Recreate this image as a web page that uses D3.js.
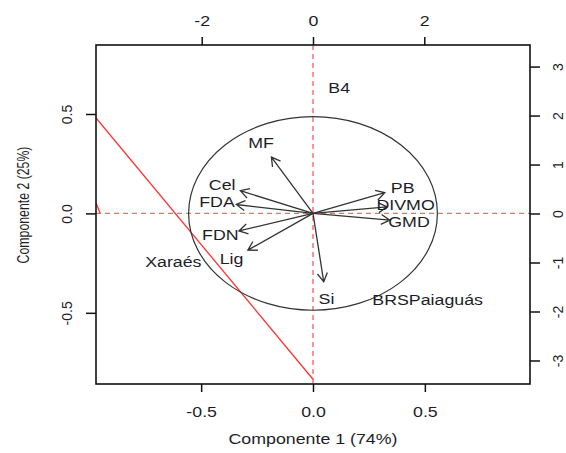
<!DOCTYPE html>
<html>
<head>
<meta charset="utf-8">
<script src="https://cdn.jsdelivr.net/npm/d3@7"></script>
<style>
  html, body { margin: 0; padding: 0; background: #fff; }
  svg { display: block; font-family: "Liberation Sans", Arial, sans-serif; }
</style>
</head>
<body>
<svg id="chart" width="566" height="453"></svg>
<script>
// Variable loadings (label positions) on components 1 and 2
const loadingNames = ["MF", "Cel", "FDA", "FDN", "Lig", "Si", "PB", "DIVMO", "GMD"];
const loadingPC1 = [-0.2325, -0.406, -0.429, -0.414, -0.364, 0.06, 0.401, 0.414, 0.429];
const loadingPC2 = [0.354, 0.1425, 0.056, -0.11, -0.231, -0.43, 0.13, 0.041, -0.0425];

// Genotype scores, read on the top / right axes
const genotypes = ["B4", "Xaraés", "BRSPaiaguás"];
const scorePC1 = [0.47, -2.51, 2.06];
const scorePC2 = [2.56, -0.99, -1.77];

// Reference circle radii (component 1, component 2)
const circleRadius = [0.556, 0.487];

// Red reference lines (component 1, component 2 end points)
const redLineA = [[-0.97, 0.48], [0, -0.834]];
const redLineB = [[-0.97, 0.052], [-0.951, 0]];

// Axis ticks
const bottomTicks = [-0.5, 0, 0.5];
const leftTicks = [-0.5, 0, 0.5];
const topTicks = [-2, 0, 2];
const rightTicks = [-3, -2, -1, 0, 1, 2, 3];

const svg = d3.select("#chart");
const L = 96, R = 530, T = 45, B = 384;
const sx = 1.27; // horizontal stretch of horizontal text
const ink = "#1e1e28";

const x = d3.scaleLinear().domain([-0.97, 0.97]).range([L, R]);
const y = d3.scaleLinear().domain([-0.858, 0.847]).range([B, T]);
const x2 = d3.scaleLinear().domain([-3.9, 3.9]).range([L, R]);
const y2 = d3.scaleLinear().domain([-3.48, 3.44]).range([B, T]);

svg.append("defs").append("clipPath").attr("id", "plotClip")
  .append("rect").attr("x", L).attr("y", T).attr("width", R - L).attr("height", B - T);

const plot = svg.append("g").attr("clip-path", "url(#plotClip)");

// Dashed zero lines
plot.append("line")
  .attr("x1", x(0)).attr("x2", x(0)).attr("y1", T).attr("y2", B)
  .attr("stroke", "#ff5a5a").attr("stroke-width", 1.3).attr("stroke-dasharray", "5,4");
plot.append("line")
  .attr("x1", L).attr("x2", R).attr("y1", y(0)).attr("y2", y(0))
  .attr("stroke", "#ff6a6a").attr("stroke-width", 1.2).attr("stroke-dasharray", "5,4");

// Red reference lines
[redLineA, redLineB].forEach(seg => {
  plot.append("line")
    .attr("x1", x(seg[0][0])).attr("y1", y(seg[0][1]))
    .attr("x2", x(seg[1][0])).attr("y2", y(seg[1][1]))
    .attr("stroke", "#ff3030").attr("stroke-width", 1.3);
});

// Circle
plot.append("ellipse")
  .attr("cx", x(0)).attr("cy", y(0))
  .attr("rx", x(circleRadius[0]) - x(0))
  .attr("ry", y(0) - y(circleRadius[1]))
  .attr("fill", "none").attr("stroke", "#333").attr("stroke-width", 1.2);

// Loading arrows, drawn to 0.8 of each loading
const arrows = plot.append("g").attr("stroke", "#333").attr("stroke-width", 1.3).attr("fill", "none");
loadingNames.forEach((name, i) => {
  const x0 = x(0), y0 = y(0);
  const x1 = x(loadingPC1[i] * 0.8), y1 = y(loadingPC2[i] * 0.8);
  const ang = Math.atan2(y1 - y0, x1 - x0);
  const hl = 10, ha = Math.PI / 6;
  const p = d3.path();
  p.moveTo(x0, y0); p.lineTo(x1, y1);
  p.moveTo(x1 - hl * Math.cos(ang - ha), y1 - hl * Math.sin(ang - ha));
  p.lineTo(x1, y1);
  p.lineTo(x1 - hl * Math.cos(ang + ha), y1 - hl * Math.sin(ang + ha));
  arrows.append("path").attr("d", p.toString());
});

// Loading labels
loadingNames.forEach((name, i) => {
  svg.append("text")
    .attr("transform", `translate(${x(loadingPC1[i])},${y(loadingPC2[i])}) scale(${sx},1)`)
    .attr("text-anchor", "middle").attr("dy", "0.36em")
    .attr("font-size", 14).attr("fill", ink).text(name);
});

// Genotype labels
genotypes.forEach((g, i) => {
  svg.append("text")
    .attr("transform", `translate(${x2(scorePC1[i])},${y2(scorePC2[i])}) scale(${sx},1)`)
    .attr("text-anchor", "middle").attr("dy", "0.36em")
    .attr("font-size", 14).attr("fill", ink).text(g);
});

// Axes
const fmt1 = d => d.toFixed(1);
const fmt0 = d => String(d);

function styleAxis(g) {
  g.select(".domain").remove();
  g.selectAll(".tick line").attr("stroke", "#111").attr("stroke-width", 1.5);
  g.selectAll(".tick text").attr("fill", ink).attr("font-size", 14)
    .attr("x", null).attr("y", null).attr("dy", null).attr("font-family", null);
}

const gb = svg.append("g").attr("transform", `translate(0,${B})`)
  .call(d3.axisBottom(x).tickValues(bottomTicks).tickFormat(fmt1).tickSize(8).tickSizeOuter(0));
styleAxis(gb);
gb.selectAll(".tick text").attr("text-anchor", "middle")
  .attr("transform", `translate(0,32.5) scale(${sx},1)`);

const gt = svg.append("g").attr("transform", `translate(0,${T})`)
  .call(d3.axisTop(x2).tickValues(topTicks).tickFormat(fmt0).tickSize(8).tickSizeOuter(0));
styleAxis(gt);
gt.selectAll(".tick text").attr("text-anchor", "middle")
  .attr("transform", `translate(0,-19.5) scale(${sx},1)`);

const gl = svg.append("g").attr("transform", `translate(${L},0)`)
  .call(d3.axisLeft(y).tickValues(leftTicks).tickFormat(fmt1).tickSize(10).tickSizeOuter(0));
styleAxis(gl);
gl.selectAll(".tick text").attr("text-anchor", "middle")
  .attr("transform", "translate(-24.5,0) rotate(-90)");

const gr = svg.append("g").attr("transform", `translate(${R},0)`)
  .call(d3.axisRight(y2).tickValues(rightTicks).tickFormat(fmt0).tickSize(10).tickSizeOuter(0));
styleAxis(gr);
gr.selectAll(".tick text").attr("text-anchor", "middle")
  .attr("transform", "translate(33,0) rotate(-90)");

// Frame
svg.append("rect").attr("x", L).attr("y", T).attr("width", R - L).attr("height", B - T)
  .attr("fill", "none").attr("stroke", "#111").attr("stroke-width", 1.6);

// Axis titles
svg.append("text")
  .attr("transform", `translate(${(L + R) / 2},444) scale(${sx},1)`)
  .attr("text-anchor", "middle").attr("font-size", 14).attr("fill", ink)
  .text("Componente 1 (74%)");

svg.append("text")
  .attr("transform", `translate(28.5,205) scale(1.3,1) rotate(-90)`)
  .attr("text-anchor", "middle").attr("font-size", 12.3).attr("fill", ink)
  .text("Componente 2 (25%)");
</script>
</body>
</html>
